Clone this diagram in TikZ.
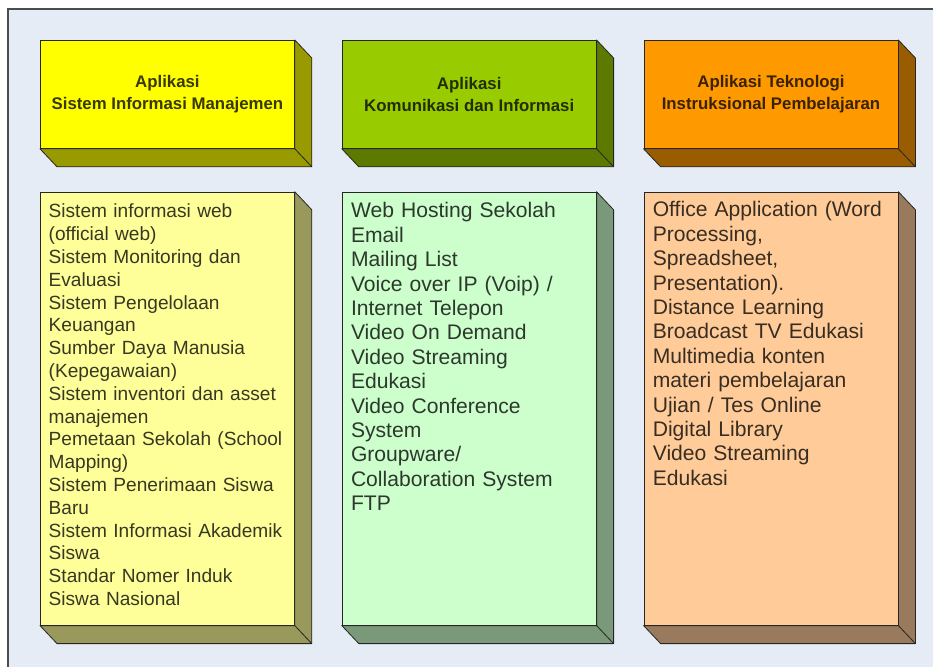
\documentclass[tikz,border=0pt]{standalone}
\usepackage{fontspec}
\setmainfont{Liberation Sans}
\usetikzlibrary{positioning}

\definecolor{panelbg}{HTML}{E6ECF6}
\definecolor{headA}{HTML}{FFFF00}
\definecolor{listA}{HTML}{FFFF99}
\definecolor{headB}{HTML}{99CC00}
\definecolor{listB}{HTML}{CCFFCC}
\definecolor{headC}{HTML}{FF9900}
\definecolor{listC}{HTML}{FFCC99}

\begin{document}
\begin{tikzpicture}[x=1pt, y=-1pt, node distance=47pt]
\tikzstyle{head} = [draw=black!85, line width=0.8pt, rectangle, inner sep=0pt,
    minimum width=254pt, minimum height=108pt, align=center,
    font=\fontsize{16.8}{22}\selectfont\bfseries]
\tikzstyle{list} = [draw=black!85, line width=0.8pt, rectangle, inner sep=0pt,
    minimum width=254pt, minimum height=433pt]
\tikzstyle{items} = [inner sep=0pt, anchor=base west, text width=245pt, align=left]
    % The page and the light panel behind the blocks
    \useasboundingbox (0,0) rectangle (933,666);
    \clip (0,0) rectangle (933,666);
    \fill[white] (0,0) rectangle (933,666);
    \draw[draw=black!70, line width=1.3pt, fill=panelbg] (8,9) rectangle (960,700);

    % We start by placing the header blocks
    \node[head, fill=headA, text=headA!22!black, anchor=north west] (headSim) at (40,40)
        {Aplikasi\\Sistem Informasi Manajemen};
    \node[head, fill=headB, text=headB!22!black, right=of headSim] (headKom)
        {Aplikasi\\Komunikasi dan Informasi};
    \node[head, fill=headC, text=headC!22!black, right=of headKom] (headTek)
        {Aplikasi Teknologi\\Instruksional Pembelajaran};

    % The list blocks go under them
    \node[list, fill=listA, below=43pt of headSim] (listSim) {};
    \node[list, fill=listB, below=43pt of headKom] (listKom) {};
    \node[list, fill=listC, below=43pt of headTek] (listTek) {};

    % Darker right and bottom faces give the 3D look
    \foreach \n/\c in {headSim/headA, headKom/headB, headTek/headC,
                       listSim/listA, listKom/listB, listTek/listC}{
        \filldraw[fill=\c!60!black, draw=black!85, line width=0.8pt, line join=round]
            (\n.north east) -- ++(17,18) -- ([shift={(17,18)}]\n.south east)
            -- ([shift={(17,18)}]\n.south west) -- (\n.south west)
            -- (\n.south east) -- cycle;
        \draw[black!85, line width=0.8pt] (\n.south east) -- ++(17,18);
    }

    % Once the blocks are placed, the texts are put at their top left
    \node[items, font=\fontsize{19.1}{22.8}\selectfont, text=listA!22!black] (txtSim)
        at ([xshift=8.5pt, yshift=-26pt]listSim.north west)
        {Sistem informasi web\\(official web)\\Sistem Monitoring dan\\Evaluasi\\
         Sistem Pengelolaan\\Keuangan\\Sumber Daya Manusia\\(Kepegawaian)\\
         Sistem inventori dan asset\\manajemen\\Pemetaan Sekolah (School\\Mapping)\\
         Sistem Penerimaan Siswa\\Baru\\Sistem Informasi Akademik\\Siswa\\
         Standar Nomer Induk\\Siswa Nasional};
    \node[items, font=\fontsize{21.1}{24.4}\selectfont, text=listB!22!black] (txtKom)
        at ([xshift=9pt, yshift=-26pt]listKom.north west)
        {Web Hosting Sekolah\\Email\\Mailing List\\Voice over IP (Voip) /\\
         Internet Telepon\\Video On Demand\\Video Streaming\\Edukasi\\
         Video Conference\\System\\Groupware/\\Collaboration System\\FTP};
    \node[items, font=\fontsize{21.1}{24.4}\selectfont, text=listC!22!black] (txtTek)
        at ([xshift=9pt, yshift=-25pt]listTek.north west)
        {Office Application (Word\\Processing,\\Spreadsheet,\\Presentation).\\
         Distance Learning\\Broadcast TV Edukasi\\Multimedia konten\\
         materi pembelajaran\\Ujian / Tes Online\\Digital Library\\
         Video Streaming\\Edukasi};
\end{tikzpicture}
\end{document}
